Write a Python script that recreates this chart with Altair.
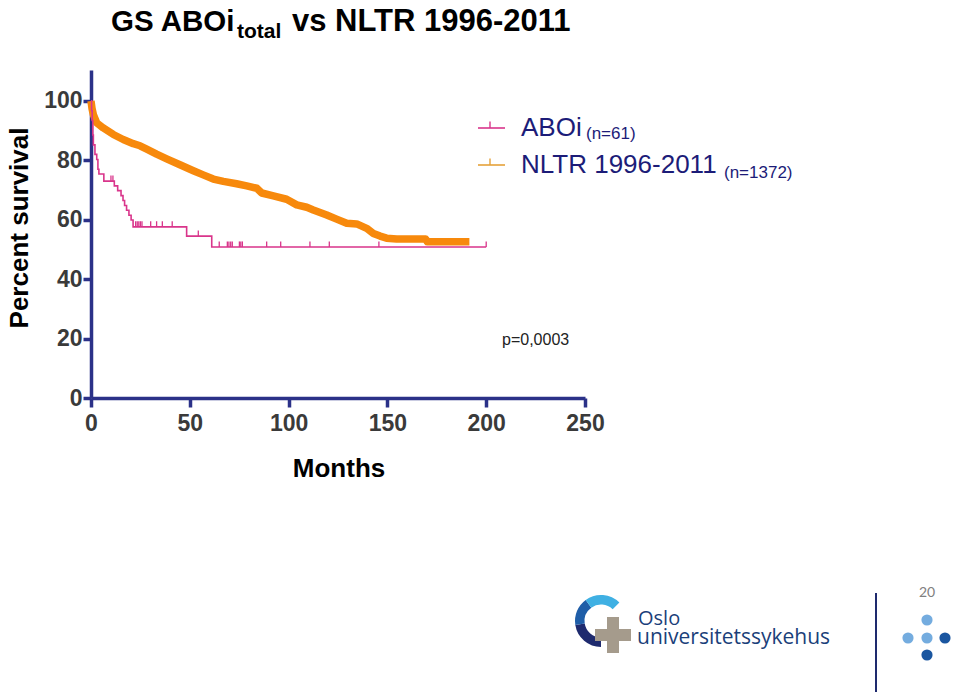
import math
import altair as alt
import numpy as np
import pandas as pd

# ---------------- data ----------------
aboi_months = [0, 0.3, 0.6, 0.9, 1.2, 2.0, 2.9, 3.5, 4.0, 6.5, 11.8, 13.5, 15.2,
               16.2, 17.0, 18.0, 19.2, 20.3, 21.3, 48.4, 61.1, 200]
aboi_surv = [100, 96.7, 93.4, 88.5, 85.2, 82.0, 80.3, 77.0, 75.4, 73.0, 71.4, 69.8,
             68.1, 66.5, 64.8, 63.2, 61.5, 59.9, 57.6, 54.5, 50.8, 50.8]
aboi_censor = [10.1, 11.1, 22.6, 23.4, 24.2, 25.0, 25.8, 30.2, 33.2, 36.1, 41.1, 54.3,
               64.9, 69.0, 69.8, 70.7, 71.5, 75.1, 75.8, 76.6, 88.9, 96.0, 110.8,
               120.6, 145.7, 200]

nltr_months = [0, 0.5, 1.2, 2.9, 6.2, 11.3, 16.3, 21.4, 24.8, 28.2, 33.2, 38.3, 45.0,
               51.8, 56.8, 61.9, 67.0, 73.7, 78.8, 83.9, 86.4, 92.3, 99.0, 104.1,
               109.2, 112.5, 119.3, 124.3, 129.4, 134.5, 139.5, 142.9, 146.3, 149.6,
               154.7, 169.4, 170.2, 191.5]
nltr_surv = [100, 97.5, 95.4, 92.6, 90.9, 88.7, 87.0, 85.6, 84.9, 83.8, 82.1, 80.5,
             78.5, 76.5, 75.1, 73.7, 72.9, 72.1, 71.4, 70.6, 69.0, 68.0, 66.9, 65.0,
             64.2, 63.3, 61.6, 60.2, 58.8, 58.6, 57.1, 55.4, 54.5, 53.8, 53.5, 53.5,
             52.6, 52.6]

x_ticks = [0, 50, 100, 150, 200, 250]
y_ticks = [0, 20, 40, 60, 80, 100]

# ---------------- styling ----------------
MAG = "#D9358B"
ORA = "#F7890C"
NAVY = "#2B3188"
LEG = "#1C1C78"
FONT = "Liberation Sans"

OX, OY = 91, 70          # page position of plot origin (top-left)
W, H = 494, 328
CW, CH = 943, 684        # canvas size


def px(x):
    return x - OX


def py(y):
    return y - OY


xs = alt.Scale(domain=[0, 250], nice=False, zero=False)
ys = alt.Scale(domain=[0, 110.4], nice=False)

aboi_df = pd.DataFrame({"m": aboi_months, "s": aboi_surv})
idx = np.searchsorted(aboi_months, aboi_censor, side="right") - 1
cens_df = pd.DataFrame({"m": aboi_censor, "s": np.array(aboi_surv)[idx]})
cens_df["s2"] = cens_df["s"] + 1.9
nltr_df = pd.DataFrame({"m": nltr_months, "s": nltr_surv})

x_axis = alt.Axis(values=x_ticks, title=None, labelPadding=5, tickSize=9)
y_axis = alt.Axis(values=y_ticks, title=None, labelPadding=1, tickSize=8)
X = alt.X("m:Q", scale=xs, axis=x_axis)
Y = alt.Y("s:Q", scale=ys, axis=y_axis)

nltr_line = alt.Chart(nltr_df).mark_line(
    color=ORA, strokeWidth=7.5, strokeJoin="round", strokeCap="butt"
).encode(x=X, y=Y)

aboi_line = alt.Chart(aboi_df).mark_line(
    interpolate="step-after", color=MAG, strokeWidth=1.6
).encode(x=X, y=Y)

aboi_ticks = alt.Chart(cens_df).mark_rule(color=MAG, strokeWidth=1.3).encode(
    x=X, y=Y, y2="s2:Q")


def one():
    return pd.DataFrame({"t": [""]})


def txt(text, x, y, size, color, weight="normal", align="left",
        baseline="alphabetic", angle=0, font=FONT):
    return alt.Chart(pd.DataFrame({"t": [text]})).mark_text(
        align=align, baseline=baseline, fontSize=size, fontWeight=weight,
        color=color, font=font, angle=angle
    ).encode(text="t:N", x=alt.value(px(x)), y=alt.value(py(y)))


def rule(x1, y1, x2, y2, color, width):
    return alt.Chart(one()).mark_rule(color=color, strokeWidth=width).encode(
        x=alt.value(px(x1)), x2=alt.value(px(x2)),
        y=alt.value(py(y1)), y2=alt.value(py(y2)))


def rect(x1, y1, x2, y2, color):
    return alt.Chart(one()).mark_rect(color=color).encode(
        x=alt.value(px(x1)), x2=alt.value(px(x2)),
        y=alt.value(py(y1)), y2=alt.value(py(y2)))


def arc(cx, cy, r_out, r_in, t1, t2, color):
    return alt.Chart(one()).mark_arc(
        radius=r_out, radius2=r_in, theta=t1, theta2=t2, color=color
    ).encode(x=alt.value(px(cx)), y=alt.value(py(cy)))


def dot(cx, cy, color):
    return alt.Chart(one()).mark_circle(size=125, color=color, opacity=1).encode(
        x=alt.value(px(cx)), y=alt.value(py(cy)))


layers = [nltr_line, aboi_line, aboi_ticks]

# titles
layers += [
    txt("GS ABOi", 111, 31, 29.5, "#000000", "bold"),
    txt("total", 237, 38, 21, "#000000", "bold"),
    txt("vs NLTR 1996-2011", 292, 31, 31, "#000000", "bold"),
    txt("Months", 339, 477, 26, "#000000", "bold", align="center"),
    txt("Percent survival", 28, 228, 26, "#000000", "bold", align="center", angle=270),
    txt("p=0,0003", 502, 345, 16, "#222222"),
]

# legend
layers += [
    rule(478, 128, 505, 128, MAG, 1.6),
    rule(490, 121.5, 490, 128, MAG, 1.4),
    txt("ABOi", 521, 136, 26, LEG),
    txt("(n=61)", 586, 139, 17, LEG),
    rule(478, 165, 505, 165, "#E5A23A", 1.6),
    rule(490, 158.5, 490, 165, "#E5A23A", 1.4),
    txt("NLTR 1996-2011", 521, 173, 26, LEG),
    txt("(n=1372)", 724, 178, 17, LEG),
]

# footer / logo
layers += [
    arc(601, 621, 26, 16.5, math.pi, 1.45 * math.pi, "#1E2A6E"),
    arc(601, 621, 26, 16.5, 1.45 * math.pi, 1.8 * math.pi, "#1F5EA8"),
    arc(601, 621, 26, 16.5, 1.8 * math.pi, 2.25 * math.pi, "#3FB0E3"),
    rect(607, 617, 619, 653, "#A59B8C"),
    rect(595, 629, 631, 641, "#A59B8C"),
    txt("Oslo", 638, 625, 20, "#1B3F7A", font="Open Sans"),
    txt("universitetssykehus", 637, 644, 21, "#1B3F7A", font="Open Sans"),
    rule(876, 593, 876, 698, "#1E2A6E", 2),
    txt("20", 927, 597, 14, "#808080", align="center", font="Lato"),
    dot(927, 620, "#74ACDF"),
    dot(908, 638, "#74ACDF"),
    dot(927, 638, "#74ACDF"),
    dot(945, 638, "#1A56A0"),
    dot(927, 655, "#1A56A0"),
]

chart = alt.layer(*layers).properties(
    width=W, height=H,
    autosize=alt.AutoSizeParams(type="none"),
    padding={"left": OX - 8, "top": OY - 8, "right": CW - (OX - 8) - W,
             "bottom": CH - (OY - 8) - H},
    background="white",
).configure_view(stroke=None).configure_axis(
    domainColor=NAVY, domainWidth=3.5, tickColor=NAVY, tickWidth=3.5,
    labelFont=FONT, labelFontWeight="bold", labelFontSize=23,
    labelColor="#3A3A3A", grid=False, labelFlush=False,
)

chart.save("out.html", embed_options={"renderer": "svg", "actions": False})
